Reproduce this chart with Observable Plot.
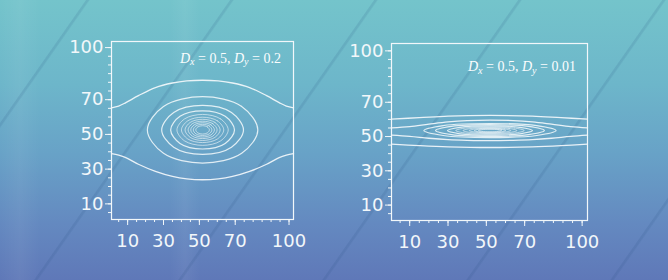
<!DOCTYPE html>
<html><head><meta charset="utf-8">
<script src="https://cdn.jsdelivr.net/npm/d3@7"></script>
<script src="https://cdn.jsdelivr.net/npm/@observablehq/plot@0.6"></script>
<style>
html,body{margin:0;padding:0;}
#wrap{position:relative;width:668px;height:280px;overflow:hidden;
 background:
  repeating-linear-gradient(125deg, rgba(255,255,255,0) 0px, rgba(255,255,255,0) 70px, rgba(30,70,120,0.13) 71px, rgba(30,70,120,0.13) 72.5px, rgba(255,255,255,0) 74px, rgba(255,255,255,0) 118px),
  linear-gradient(90deg, rgba(255,255,255,0) 0px, rgba(255,255,255,0.05) 20px, rgba(255,255,255,0) 40px, rgba(255,255,255,0) 170px, rgba(255,255,255,0.05) 185px, rgba(255,255,255,0) 200px, rgba(255,255,255,0) 668px),
  linear-gradient(180deg,#74c4cb 0%,#6db6ca 30%,#68a2c7 55%,#6489c0 80%,#5f78b8 100%);}
.panel{position:absolute;top:0;}
.lab{position:absolute;font-family:"Liberation Serif","DejaVu Serif",serif;font-size:14px;line-height:14px;color:#fbfdfe;white-space:nowrap;}
.lab sub{font-size:0.72em;position:relative;top:0.25em;vertical-align:baseline;line-height:0;}
</style></head>
<body><div id="wrap">
<div class="panel" id="p1" style="left:0"></div>
<div class="panel" id="p2" style="left:334px"></div>
<div class="lab" style="right:387px;top:51.5px"><i>D</i><sub><i>x</i></sub> = 0.5, <i>D</i><sub><i>y</i></sub> = 0.2</div>
<div class="lab" style="right:92px;top:60px"><i>D</i><sub><i>x</i></sub> = 0.5, <i>D</i><sub><i>y</i></sub> = 0.01</div>
</div>
<script>
// tick values
const xMajorTicks = [10, 30, 50, 70, 100];
const yMajorTicks = [10, 30, 50, 70, 100];
const minorTicks = [5,10,15,20,25,30,35,40,45,50,55,60,65,70,75,80,85,90,95,100];

// Left panel (Dx=0.5, Dy=0.2): open contour curves
const leftOpenTop = [[1,65.3],[5,66.3],[9,68.3],[16,72.3],[25.5,77],[35,79.6],[43,80.8],[51.7,81.2],[60.5,80.8],[68.5,79.6],[78,77],[87.5,72.3],[94.5,68.3],[98.5,66.3],[102.5,65.3]];
const leftOpenBottom = [[1,38.9],[5,38.0],[9,36.6],[16,32.8],[25.5,28.7],[35,25.8],[43,24.4],[51.7,23.9],[60.5,24.4],[68.5,25.8],[78,28.7],[87.5,32.8],[94.5,36.6],[98.5,38.0],[102.5,38.9]];
// Left panel closed contours, outer to inner
const leftRings = [
 [[82.6,52.6],[73.6,66.1],[51.8,71.7],[30.0,66.1],[21.0,52.6],[30.0,39.1],[51.8,33.5],[73.6,39.1]],
 [[74.6,52.6],[67.9,62.6],[51.8,66.7],[35.7,62.6],[29.0,52.6],[35.7,42.6],[51.8,38.5],[67.9,42.6]],
 [[69.6,52.6],[64.4,60.4],[51.8,63.6],[39.2,60.4],[34.0,52.6],[39.2,44.8],[51.8,41.6],[64.4,44.8]],
 [[66.1,52.6],[61.9,58.9],[51.8,61.5],[41.7,58.9],[37.5,52.6],[41.7,46.3],[51.8,43.7],[61.9,46.3]],
 [[63.6,52.6],[60.1,57.8],[51.8,59.9],[43.5,57.8],[40.0,52.6],[43.5,47.4],[51.8,45.3],[60.1,47.4]],
 [[61.6,52.6],[58.7,56.9],[51.8,58.7],[44.9,56.9],[42.0,52.6],[44.9,48.3],[51.8,46.5],[58.7,48.3]],
 [[59.9,52.6],[57.5,56.2],[51.8,57.6],[46.1,56.2],[43.7,52.6],[46.1,49.0],[51.8,47.6],[57.5,49.0]],
 [[58.4,52.6],[56.5,55.5],[51.8,56.7],[47.1,55.5],[45.2,52.6],[47.1,49.7],[51.8,48.5],[56.5,49.7]],
 [[57.0,52.6],[55.5,54.9],[51.8,55.8],[48.1,54.9],[46.6,52.6],[48.1,50.3],[51.8,49.4],[55.5,50.3]],
 [[55.6,52.6],[54.5,54.3],[51.8,55.0],[49.1,54.3],[48.0,52.6],[49.1,50.9],[51.8,50.2],[54.5,50.9]]
];

// Right panel (Dx=0.5, Dy=0.01): open contour curves
const rightOpen1 = [[0.5,60.2],[15,61.0],[30,61.9],[51.9,62.3],[74,61.9],[89,61.0],[102.8,60.2]];
const rightOpen2 = [[0.5,55.1],[10,55.8],[20,57.2],[30,58.5],[40,59.3],[51.9,59.6],[64,59.3],[74,58.5],[84,57.2],[94,55.8],[102.8,55.1]];
const rightOpen3 = [[0.5,50.8],[10,50.1],[20,49.0],[30,48.2],[40,47.8],[51.9,47.6],[64,47.8],[74,48.2],[84,49.0],[94,50.1],[102.8,50.8]];
const rightOpen4 = [[0.5,45.6],[15,44.7],[30,44.0],[51.9,43.6],[74,44.0],[89,44.7],[102.8,45.6]];
const rightRings = [
 [[86.4,53.5],[76.3,56.4],[51.9,57.6],[27.5,56.4],[17.4,53.5],[27.5,50.6],[51.9,49.4],[76.3,50.6]],
 [[80.3,53.5],[72.0,55.9],[51.9,56.9],[31.8,55.9],[23.5,53.5],[31.8,51.1],[51.9,50.1],[72.0,51.1]],
 [[74.1,53.5],[67.6,55.4],[51.9,56.2],[36.2,55.4],[29.7,53.5],[36.2,51.6],[51.9,50.8],[67.6,51.6]],
 [[69.8,53.5],[64.6,55.0],[51.9,55.6],[39.2,55.0],[34.0,53.5],[39.2,52.0],[51.9,51.4],[64.6,52.0]],
 [[66.0,53.5],[61.9,54.7],[51.9,55.2],[41.9,54.7],[37.8,53.5],[41.9,52.3],[51.9,51.8],[61.9,52.3]],
 [[62.8,53.5],[59.6,54.4],[51.9,54.8],[44.2,54.4],[41.0,53.5],[44.2,52.6],[51.9,52.2],[59.6,52.6]],
 [[60.2,53.5],[57.8,54.2],[51.9,54.5],[46.0,54.2],[43.6,53.5],[46.0,52.8],[51.9,52.5],[57.8,52.8]],
 [[58.0,53.5],[56.2,54.0],[51.9,54.2],[47.6,54.0],[45.8,53.5],[47.6,53.0],[51.9,52.8],[56.2,53.0]]
];

function toTable(curves){
  const out=[];
  curves.forEach((c,i)=>c.forEach(([x,y])=>out.push({id:i,x,y})));
  return out;
}
const lineColor = "#f6fafc";
const axisColor = "#f2f7fa";

function panel(opts, openCurves, rings){
  const outer = rings.slice(0, 3), inner = rings.slice(3);
  return Plot.plot({
    width: 334, height: 280,
    marginLeft: opts.ml, marginRight: opts.mr, marginTop: opts.mt, marginBottom: opts.mb,
    x: {domain: opts.xd},
    y: {domain: opts.yd},
    style: {background: "transparent", color: axisColor, fontFamily: "DejaVu Sans", fontSize: "18px", overflow: "visible"},
    marks: [
      Plot.line(toTable(openCurves), {x: "x", y: "y", z: "id", curve: "catmull-rom", stroke: lineColor, strokeWidth: 1.3, strokeOpacity: 0.9}),
      Plot.line(toTable(outer), {x: "x", y: "y", z: "id", curve: "catmull-rom-closed", stroke: lineColor, strokeWidth: 1.2, strokeOpacity: 0.85}),
      Plot.line(toTable(inner), {x: "x", y: "y", z: "id", curve: "catmull-rom-closed", stroke: lineColor, strokeWidth: 1, strokeOpacity: 0.6}),
      Plot.frame({stroke: axisColor, strokeWidth: 1.2}),
      Plot.axisY({ticks: minorTicks, tickSize: 3, tickFormat: () => "", label: null, stroke: axisColor}),
      Plot.axisY({ticks: yMajorTicks, tickSize: 6, tickPadding: 2, label: null, fontSize: 18, stroke: axisColor}),
      Plot.axisX({ticks: minorTicks, tickSize: 3, tickFormat: () => "", label: null, stroke: axisColor}),
      Plot.axisX({ticks: xMajorTicks, tickSize: 6, tickPadding: 9, label: null, fontSize: 18, stroke: axisColor})
    ]
  });
}

document.getElementById("p1").append(panel({ml:111, mr:41, mt:41, mb:61, xd:[1,102.5], yd:[1,103.5]},
  [leftOpenTop, leftOpenBottom], leftRings));
document.getElementById("p2").append(panel({ml:57, mr:81, mt:43, mb:60, xd:[0.5,102.8], yd:[1,104.3]},
  [rightOpen1, rightOpen2, rightOpen3, rightOpen4], rightRings));
</script>
</body></html>
